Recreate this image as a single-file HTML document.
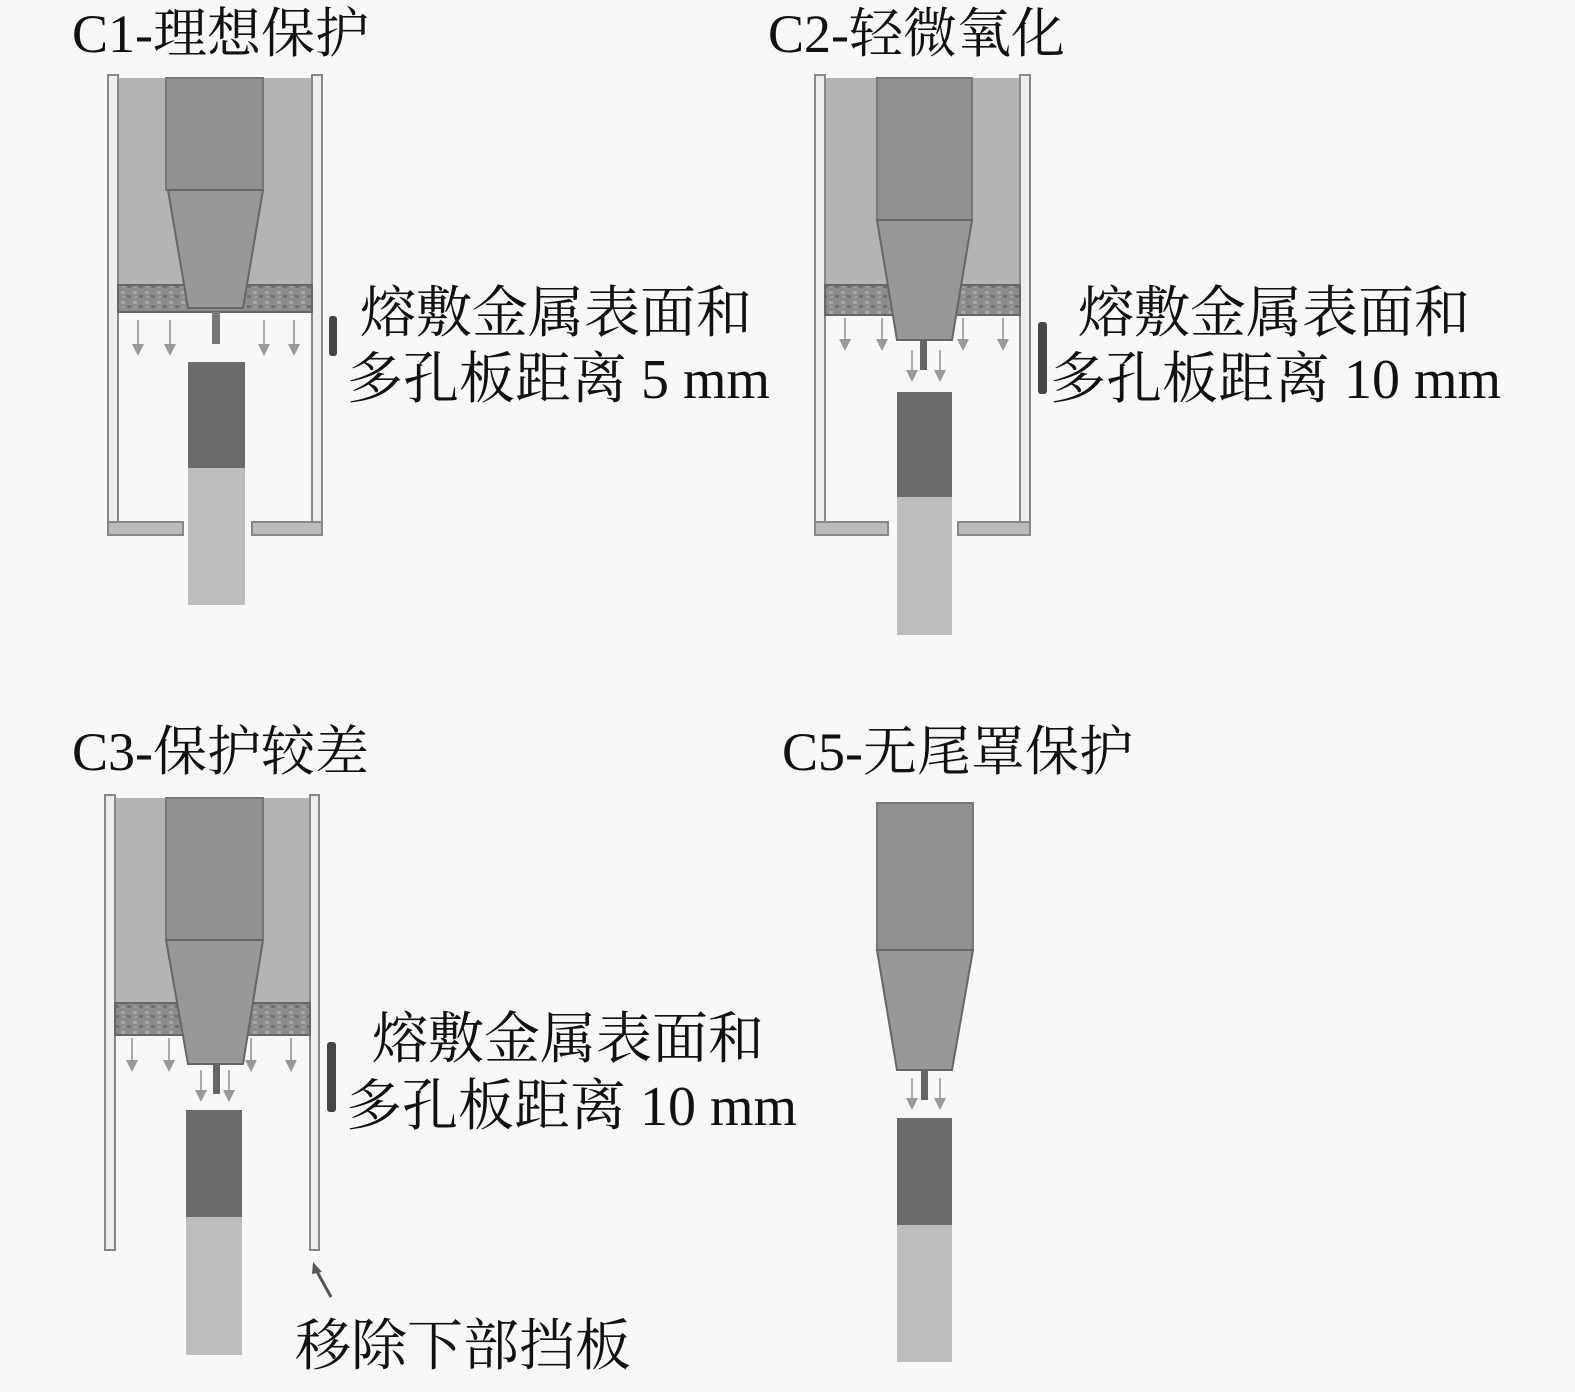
<!DOCTYPE html>
<html><head><meta charset="utf-8"><style>
html,body{margin:0;padding:0;background:#f8f8f8}
svg{display:block}
text{font-family:"Liberation Serif","Noto Serif CJK SC",serif;font-size:56px;fill:#111}
text.t{font-size:54px}
</style></head><body>
<svg width="1575" height="1392" viewBox="0 0 1575 1392" xmlns="http://www.w3.org/2000/svg">
<defs>
<pattern id="sp" width="12" height="10" patternUnits="userSpaceOnUse">
<rect width="12" height="10" fill="#8c8c8c"/>
<rect x="1" y="1" width="4" height="3" fill="#a8a8a8"/>
<rect x="7" y="5" width="4" height="3" fill="#707070"/>
<rect x="2" y="6" width="3" height="2" fill="#9c9c9c"/>
</pattern>
<marker id="ah" markerWidth="6" markerHeight="6" refX="3" refY="3" orient="auto"><path d="M0,0L6,3L0,6z" fill="#999"/></marker>
</defs>

<!-- C1 -->
<text class="t" x="72" y="52">C1-理想保护</text>
<rect x="118" y="78" width="194" height="210" fill="#b4b4b4"/>
<rect x="108" y="75" width="10" height="460" fill="#eee" stroke="#888" stroke-width="2"/>
<rect x="312" y="75" width="10" height="460" fill="#eee" stroke="#888" stroke-width="2"/>
<rect x="108" y="522" width="75" height="13" fill="#bbb" stroke="#888" stroke-width="2"/>
<rect x="252" y="522" width="70" height="13" fill="#bbb" stroke="#888" stroke-width="2"/>
<rect x="118" y="285" width="194" height="27" fill="url(#sp)" stroke="#666" stroke-width="2"/>
<rect x="166" y="78" width="97" height="112" fill="#919191" stroke="#777" stroke-width="2"/>
<polygon points="168,190 263,190 243,308 188,308" fill="#989898" stroke="#666" stroke-width="2"/>
<rect x="212" y="312" width="8" height="32" fill="#777"/>
<g stroke="#aaa" stroke-width="2" marker-end="url(#ah)"><line x1="138" y1="320" x2="138" y2="350"/><line x1="170" y1="320" x2="170" y2="350"/><line x1="264" y1="320" x2="264" y2="350"/><line x1="294" y1="320" x2="294" y2="350"/></g>
<rect x="188" y="362" width="57" height="106" fill="#6b6b6b"/>
<rect x="188" y="468" width="57" height="137" fill="#bdbdbd"/>
<rect x="329" y="316" width="8" height="40" rx="3" fill="#444"/>
<text x="360" y="332">熔敷金属表面和</text>
<text x="347" y="398">多孔板距离 5 mm</text>

<!-- C2 -->
<text class="t" x="768" y="52">C2-轻微氧化</text>
<rect x="825" y="78" width="195" height="210" fill="#b4b4b4"/>
<rect x="815" y="75" width="10" height="460" fill="#eee" stroke="#888" stroke-width="2"/>
<rect x="1020" y="75" width="10" height="460" fill="#eee" stroke="#888" stroke-width="2"/>
<rect x="815" y="522" width="73" height="13" fill="#bbb" stroke="#888" stroke-width="2"/>
<rect x="958" y="522" width="72" height="13" fill="#bbb" stroke="#888" stroke-width="2"/>
<rect x="825" y="285" width="195" height="30" fill="url(#sp)" stroke="#666" stroke-width="2"/>
<rect x="877" y="78" width="95" height="142" fill="#919191" stroke="#777" stroke-width="2"/>
<polygon points="877,220 972,220 952,340 897,340" fill="#989898" stroke="#666" stroke-width="2"/>
<rect x="920" y="340" width="7" height="30" fill="#666"/>
<g stroke="#aaa" stroke-width="2" marker-end="url(#ah)"><line x1="845" y1="318" x2="845" y2="345"/><line x1="882" y1="318" x2="882" y2="345"/><line x1="963" y1="318" x2="963" y2="345"/><line x1="1003" y1="318" x2="1003" y2="345"/><line x1="912" y1="350" x2="912" y2="376"/><line x1="940" y1="350" x2="940" y2="376"/></g>
<rect x="897" y="392" width="55" height="105" fill="#6b6b6b"/>
<rect x="897" y="497" width="55" height="138" fill="#bdbdbd"/>
<rect x="1038" y="322" width="9" height="72" rx="3" fill="#444"/>
<text x="1078" y="332">熔敷金属表面和</text>
<text x="1050" y="398">多孔板距离 10 mm</text>

<!-- C3 -->
<text class="t" x="72" y="770">C3-保护较差</text>
<rect x="115" y="798" width="195" height="208" fill="#b4b4b4"/>
<rect x="105" y="795" width="10" height="455" fill="#eee" stroke="#888" stroke-width="2"/>
<rect x="310" y="795" width="9" height="455" fill="#eee" stroke="#888" stroke-width="2"/>
<rect x="115" y="1003" width="195" height="32" fill="url(#sp)" stroke="#666" stroke-width="2"/>
<rect x="166" y="798" width="97" height="142" fill="#919191" stroke="#777" stroke-width="2"/>
<polygon points="166,940 263,940 243,1064 188,1064" fill="#989898" stroke="#666" stroke-width="2"/>
<rect x="213" y="1064" width="7" height="30" fill="#666"/>
<g stroke="#aaa" stroke-width="2" marker-end="url(#ah)"><line x1="132" y1="1038" x2="132" y2="1066"/><line x1="169" y1="1038" x2="169" y2="1066"/><line x1="251" y1="1038" x2="251" y2="1066"/><line x1="291" y1="1038" x2="291" y2="1066"/><line x1="201" y1="1070" x2="201" y2="1096"/><line x1="229" y1="1070" x2="229" y2="1096"/></g>
<rect x="186" y="1110" width="56" height="107" fill="#6b6b6b"/>
<rect x="186" y="1217" width="56" height="138" fill="#bdbdbd"/>
<rect x="327" y="1042" width="9" height="70" rx="3" fill="#444"/>
<line x1="331" y1="1297" x2="315" y2="1268" stroke="#555" stroke-width="3"/>
<path d="M313,1262 L322,1272 L312,1274z" fill="#555"/>
<text x="372" y="1058">熔敷金属表面和</text>
<text x="346" y="1125">多孔板距离 10 mm</text>
<text x="295" y="1365">移除下部挡板</text>

<!-- C5 -->
<text class="t" x="782" y="770">C5-无尾罩保护</text>
<rect x="877" y="803" width="96" height="147" fill="#919191" stroke="#777" stroke-width="2"/>
<polygon points="877,950 973,950 952,1070 897,1070" fill="#989898" stroke="#666" stroke-width="2"/>
<rect x="921" y="1070" width="7" height="30" fill="#666"/>
<g stroke="#aaa" stroke-width="2" marker-end="url(#ah)"><line x1="912" y1="1078" x2="912" y2="1104"/><line x1="940" y1="1078" x2="940" y2="1104"/></g>
<rect x="897" y="1118" width="55" height="107" fill="#6b6b6b"/>
<rect x="897" y="1225" width="55" height="137" fill="#bdbdbd"/>
</svg>
</body></html>
